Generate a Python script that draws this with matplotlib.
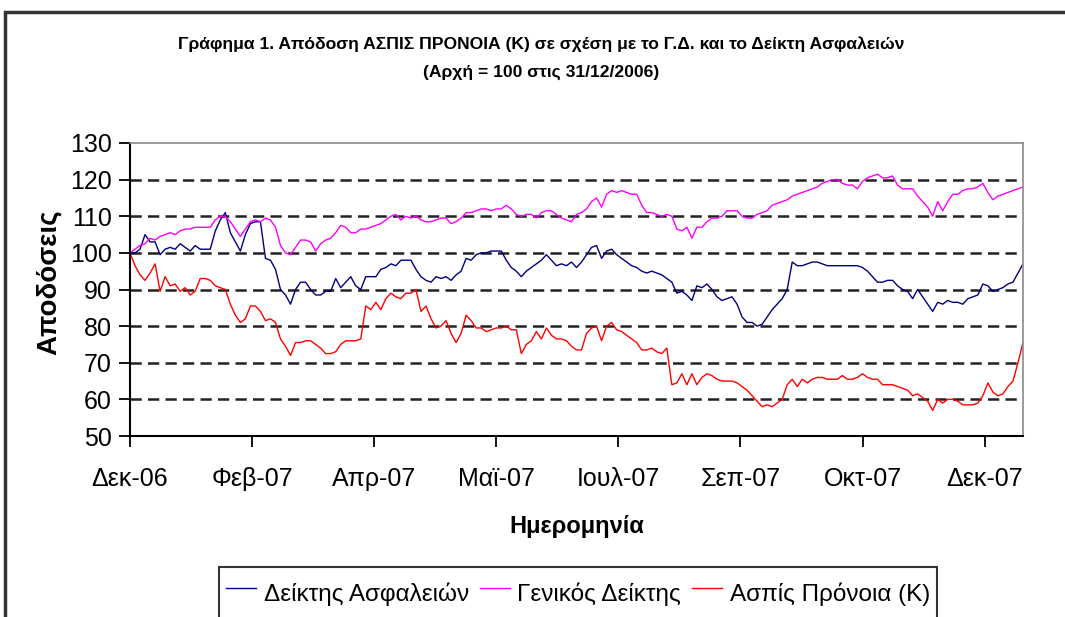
import numpy as np
import matplotlib
matplotlib.use('Agg')
import matplotlib.pyplot as plt
from matplotlib.patches import Rectangle

plt.rcParams['font.family'] = ['Liberation Sans', 'DejaVu Sans']

# values (index 100 = 31/12/2006), one every ~1.4 trading days
blue = [100, 100, 101, 105, 103, 103, 99.5, 101, 101.5, 101, 102.5, 101.5, 100.5, 102, 101, 101, 101, 106, 109, 111,
        105.5, 103, 100.5, 105, 108, 108.5, 108.5, 98.5, 98, 95.5, 90, 88.5, 86, 90, 92, 92, 90, 88.5, 88.5, 89.5,
        89.5, 93, 90.5, 92, 93.5, 91, 90, 93.5, 93.5, 93.5, 95.5, 96, 97, 96.5, 98, 98, 98, 95.5, 93.5, 92.5,
        92, 93.5, 93, 93.5, 92.5, 94, 95, 98.5, 98, 99.5, 100, 100, 100.5, 100.5, 100.5, 98, 96, 95, 93.5, 95,
        96, 97, 98, 99.5, 98, 96.5, 97, 96.5, 97.5, 96, 97.5, 99.5, 101.5, 102, 98.5, 100.5, 101, 99.5, 98.5, 97.5,
        96.5, 96, 95, 94.5, 95, 94.5, 94, 93, 92, 89, 89.5, 88.5, 87, 91, 90.5, 91.5, 90, 88, 87, 87.5,
        88, 86, 82.5, 81, 81, 80, 80.5, 82.5, 84.5, 86, 87.5, 90, 97.5, 96.5, 96.5, 97, 97.5, 97.5, 97, 96.5,
        96.5, 96.5, 96.5, 96.5, 96.5, 96.5, 96, 95, 93.5, 92, 92, 92.5, 92.5, 91, 90, 89.5, 87.5, 90, 88, 86,
        84, 86.5, 86, 87, 86.5, 86.5, 86, 87.5, 88, 88.5, 91.5, 91, 89.5, 90, 90.5, 91.5, 92, 94.5, 97]
magenta = [100, 101, 102, 102.5, 104, 103.5, 104.5, 105, 105.5, 105, 106, 106.5, 106.5, 107, 107, 107, 107, 109, 110, 110,
           108.5, 106.5, 104.5, 106.5, 108.5, 109, 108.5, 109.5, 109, 107, 102, 100, 99.5, 101.5, 103.5, 103.5, 103, 100.5, 102.5, 103.5,
           104, 105.5, 107.5, 107, 105.5, 105.5, 106.5, 106.5, 107, 107.5, 108, 109, 110, 110.5, 109, 110, 109.5, 110, 109, 108.5,
           108.5, 109, 109.5, 109.5, 108, 108.5, 109.5, 111, 111, 111.5, 112, 112, 111.5, 112, 112, 113, 112, 110.5, 110, 110.5,
           110.5, 109.5, 111, 111.5, 111.5, 110.5, 109.5, 109, 108.5, 110.5, 111, 112, 114, 115, 112.5, 116, 117, 116.5, 117, 116.5,
           116, 116, 113, 111, 111, 110.5, 110, 110.5, 110, 106.5, 106, 107, 104, 107, 107, 108.5, 109.5, 109.5, 110, 111.5,
           111.5, 111.5, 110, 109.5, 109.5, 110.5, 111, 111.5, 113, 113.5, 114, 114.5, 115.5, 116, 116.5, 117, 117.5, 118, 119, 119.5,
           120, 120, 119, 118.5, 118.5, 117.5, 119.5, 120.5, 121, 121.5, 120.5, 120.5, 121, 118.5, 117.5, 117.5, 117.5, 115.5, 114, 112.5,
           110, 114, 111.5, 114, 116, 116, 117, 117.5, 117.5, 118, 119, 116.5, 114.5, 115.5, 116, 116.5, 117, 117.5, 118]
red = [100, 96.5, 94, 92.5, 94.5, 97, 89.5, 93.5, 91, 91.5, 89.5, 90.5, 88.5, 89.5, 93, 93, 92.5, 91, 90.5, 90,
       86, 83, 81, 82, 85.5, 85.5, 84, 81.5, 82, 81, 76.5, 74.5, 72, 75.5, 75.5, 76, 76, 75, 74, 72.5,
       72.5, 73, 75, 76, 76, 76, 76.5, 85.5, 84.5, 86.5, 84.5, 87.5, 89, 88, 87.5, 89, 89, 90, 84, 85.5,
       82, 79.5, 80, 81.5, 78, 75.5, 78, 83, 81.5, 79.5, 79.5, 78.5, 79, 79.5, 79.5, 80, 79, 79, 72.5, 75,
       76, 78.5, 76.5, 79.5, 77.5, 76.5, 76.5, 76, 74.5, 73.5, 73.5, 78, 79.5, 80, 76, 80, 81, 79, 78.5, 77.5,
       76.5, 75.5, 73.5, 73.5, 74, 73, 72.5, 74, 64, 64.5, 67, 64, 67, 64, 66, 67, 66.5, 65.5, 65, 65,
       65, 64.5, 63.5, 62.5, 61, 59.5, 58, 58.5, 58, 59, 60, 64, 65.5, 63.5, 65.5, 64.5, 65.5, 66, 66, 65.5,
       65.5, 65.5, 66.5, 65.5, 65.5, 66, 67, 66, 65.5, 65.5, 64, 64, 64, 63.5, 63, 62.5, 61, 61.5, 60.5, 59.5,
       57, 60, 59, 60, 60, 59.5, 58.5, 58.5, 58.5, 59, 61, 64.5, 62, 61, 61.5, 63.5, 65, 70, 75.5]

series_names = ['Δείκτης Ασφαλειών', 'Γενικός Δείκτης', 'Ασπίς Πρόνοια (Κ)']
series_colors = ['#000080', '#FF00FF', '#FF0000']
tick_labels = ['Δεκ-06', 'Φεβ-07', 'Απρ-07', 'Μαϊ-07', 'Ιουλ-07', 'Σεπ-07', 'Οκτ-07', 'Δεκ-07']
n_days = 256      # trading days shown
tick_every = 35   # one label every 35 points (Excel category axis)

fig = plt.figure(figsize=(10.65, 6.17), dpi=100)
ax = fig.add_axes([130/1065, 1-436/617, 893/1065, 293/617])

days = np.linspace(0, n_days, len(blue))
for vals, name, col in zip([blue, magenta, red], series_names, series_colors):
    ax.plot(days, vals, color=col, lw=1.0, label=name)

ax.set_xlim(0, n_days)
ax.set_ylim(50, 130)
ax.set_yticks(range(50, 131, 10))
ax.set_xticks(np.arange(len(tick_labels)) * tick_every)
ax.set_xticklabels(tick_labels)
for y in range(60, 130, 10):
    ax.axhline(y, color='#222222', lw=1.8, ls=(0, (4.5, 2.5)), zorder=0)

ax.tick_params(axis='both', direction='out', length=8, width=1.3, colors='black', labelsize=18)
ax.tick_params(axis='x', pad=14)
ax.tick_params(axis='y', pad=5)
for s in ['left', 'bottom']:
    ax.spines[s].set_linewidth(1.5)
    ax.spines[s].set_color('black')
for s in ['top', 'right']:
    ax.spines[s].set_linewidth(1.2)
    ax.spines[s].set_color('#8a8a8a')

# axis titles
fig.text(49/1065, 1-282/617, 'Αποδόσεις', rotation=90, ha='center', va='center',
         fontsize=20, fontweight='bold')
fig.text(577/1065, 1-526/617, 'Ημερομηνία', ha='center', va='center',
         fontsize=17, fontweight='bold')

fig.text(541/1065, 1-44/617, 'Γράφημα 1. Απόδοση ΑΣΠΙΣ ΠΡΟΝΟΙΑ (Κ) σε σχέση με το Γ.Δ. και το Δείκτη Ασφαλειών',
         ha='center', va='center', fontsize=12.6, fontweight='bold')
fig.text(541/1065, 1-72/617, '(Αρχή = 100 στις 31/12/2006)',
         ha='center', va='center', fontsize=12.6, fontweight='bold')

# chart frame, runs off the right and bottom edges like the screenshot
fig.patches.append(Rectangle((5/1065, -0.1), 1.2, 1-12/617+0.1, transform=fig.transFigure,
                             fill=False, ec='#333333', lw=2.5))

# legend box is cut by the bottom edge in the screenshot
leg = fig.legend(loc='upper center', bbox_to_anchor=(578/1065, 1-567/617), ncol=3, fontsize=17.5,
                 frameon=True, fancybox=False, edgecolor='black', handlelength=1.25, handleheight=2.0,
                 handletextpad=0.3, columnspacing=0.45, borderpad=0.3, borderaxespad=0)
leg.get_frame().set_linewidth(1.5)

fig.savefig('out.png', dpi=100)
